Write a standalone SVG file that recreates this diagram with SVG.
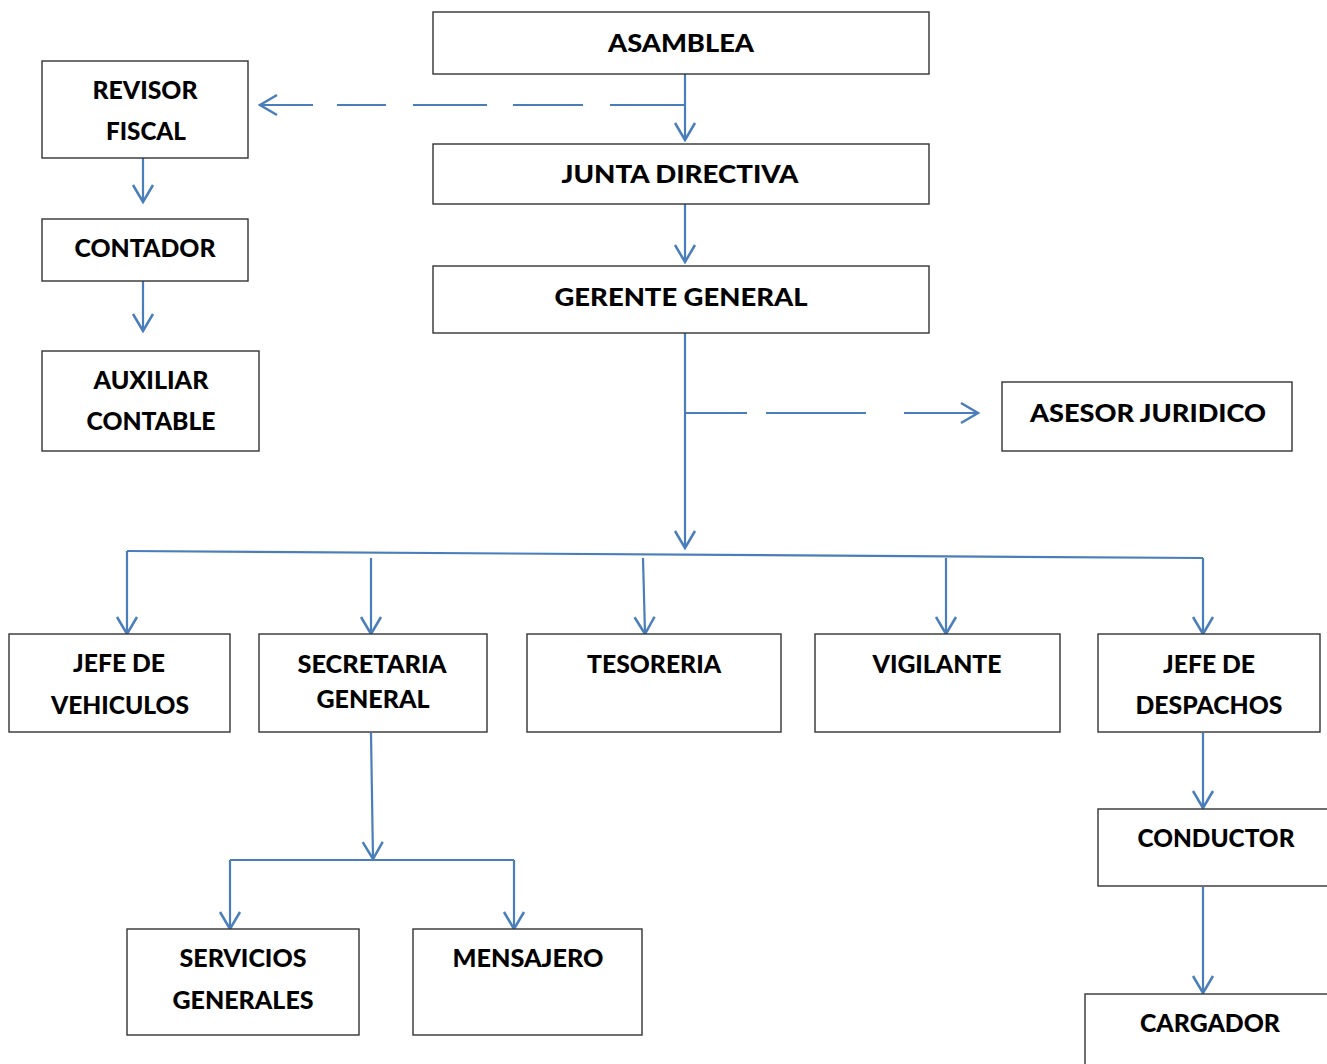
<svg xmlns="http://www.w3.org/2000/svg" width="1327" height="1064" viewBox="0 0 1327 1064">
<defs>
<style>
.box{fill:#fff;stroke:#333;stroke-width:1.4}
.t{font-family:Lato,"Open Sans","Liberation Sans",sans-serif;font-weight:900;font-size:25px;fill:#000;text-anchor:middle}
.c{fill:none;stroke:#4a7ebb;stroke-width:2.2}
.a{marker-end:url(#ah)}
</style>
<marker id="ah" viewBox="0 0 20 24" refX="18" refY="12" markerWidth="20" markerHeight="24" markerUnits="userSpaceOnUse" orient="auto">
<path d="M1,2 L18,12 L1,22" fill="none" stroke="#4a7ebb" stroke-width="2.5"/>
</marker>
</defs>
<rect width="1327" height="1064" fill="#fff"/>
<g id="connectors">
<path class="c a" d="M685,74 V140"/>
<path class="c" d="M685,105 H610 M583,105 H513 M487,105 H413 M386,105 H337"/>
<path class="c a" d="M313,105 H260"/>
<path class="c a" d="M685,204 V262"/>
<path class="c a" d="M685,333 V548"/>
<path class="c" d="M686,413 H747 M766,413 H866"/>
<path class="c a" d="M904,413 H978"/>
<path class="c a" d="M143,158 V202"/>
<path class="c a" d="M143,281 V331"/>
<path class="c" d="M127,551 L1203,558"/>
<path class="c a" d="M127,551 V634"/>
<path class="c a" d="M1203,558 V634"/>
<path class="c a" d="M371,558 V634"/>
<path class="c a" d="M643,558 L645,634"/>
<path class="c a" d="M946,558 V634"/>
<path class="c a" d="M371,733 L373,859"/>
<path class="c" d="M230,860 H514"/>
<path class="c a" d="M230,860 V929"/>
<path class="c a" d="M514,860 V929"/>
<path class="c a" d="M1203,733 V808"/>
<path class="c a" d="M1203,887 V993"/>
</g>
<g id="asamblea"><rect class="box" x="433" y="12" width="496" height="62"/><text class="t" x="681" y="52" textLength="146" lengthAdjust="spacingAndGlyphs">ASAMBLEA</text></g>
<g id="revisor-fiscal"><rect class="box" x="42" y="61" width="206" height="97"/><text class="t" x="145" y="99" textLength="105" lengthAdjust="spacingAndGlyphs">REVISOR</text><text class="t" x="146" y="140" textLength="80" lengthAdjust="spacingAndGlyphs">FISCAL</text></g>
<g id="junta-directiva"><rect class="box" x="433" y="144" width="496" height="60"/><text class="t" x="680" y="183" textLength="237" lengthAdjust="spacingAndGlyphs">JUNTA DIRECTIVA</text></g>
<g id="contador"><rect class="box" x="42" y="219" width="206" height="62"/><text class="t" x="145" y="257" textLength="141" lengthAdjust="spacingAndGlyphs">CONTADOR</text></g>
<g id="gerente-general"><rect class="box" x="433" y="266" width="496" height="67"/><text class="t" x="681" y="306" textLength="253" lengthAdjust="spacingAndGlyphs">GERENTE GENERAL</text></g>
<g id="auxiliar-contable"><rect class="box" x="42" y="351" width="217" height="100"/><text class="t" x="151" y="389" textLength="115" lengthAdjust="spacingAndGlyphs">AUXILIAR</text><text class="t" x="151" y="430" textLength="129" lengthAdjust="spacingAndGlyphs">CONTABLE</text></g>
<g id="asesor-juridico"><rect class="box" x="1002" y="382" width="290" height="69"/><text class="t" x="1148" y="422" textLength="236" lengthAdjust="spacingAndGlyphs">ASESOR JURIDICO</text></g>
<g id="jefe-vehiculos"><rect class="box" x="9" y="634" width="221" height="98"/><text class="t" x="119" y="672" textLength="92" lengthAdjust="spacingAndGlyphs">JEFE DE</text><text class="t" x="120" y="714" textLength="138" lengthAdjust="spacingAndGlyphs">VEHICULOS</text></g>
<g id="secretaria-general"><rect class="box" x="259" y="634" width="228" height="98"/><text class="t" x="372" y="673" textLength="149" lengthAdjust="spacingAndGlyphs">SECRETARIA</text><text class="t" x="373" y="708" textLength="113" lengthAdjust="spacingAndGlyphs">GENERAL</text></g>
<g id="tesoreria"><rect class="box" x="527" y="634" width="254" height="98"/><text class="t" x="654" y="673" textLength="134" lengthAdjust="spacingAndGlyphs">TESORERIA</text></g>
<g id="vigilante"><rect class="box" x="815" y="634" width="245" height="98"/><text class="t" x="937" y="673" textLength="129" lengthAdjust="spacingAndGlyphs">VIGILANTE</text></g>
<g id="jefe-despachos"><rect class="box" x="1098" y="634" width="222" height="98"/><text class="t" x="1209" y="673" textLength="92" lengthAdjust="spacingAndGlyphs">JEFE DE</text><text class="t" x="1209" y="714" textLength="147" lengthAdjust="spacingAndGlyphs">DESPACHOS</text></g>
<g id="conductor"><rect class="box" x="1098" y="809" width="240" height="77"/><text class="t" x="1216" y="847" textLength="157" lengthAdjust="spacingAndGlyphs">CONDUCTOR</text></g>
<g id="cargador"><rect class="box" x="1085" y="994" width="260" height="90"/><text class="t" x="1210" y="1032" textLength="140" lengthAdjust="spacingAndGlyphs">CARGADOR</text></g>
<g id="servicios-generales"><rect class="box" x="127" y="929" width="232" height="106"/><text class="t" x="243" y="967" textLength="127" lengthAdjust="spacingAndGlyphs">SERVICIOS</text><text class="t" x="243" y="1009" textLength="141" lengthAdjust="spacingAndGlyphs">GENERALES</text></g>
<g id="mensajero"><rect class="box" x="413" y="929" width="229" height="106"/><text class="t" x="528" y="967" textLength="151" lengthAdjust="spacingAndGlyphs">MENSAJERO</text></g>
</svg>
